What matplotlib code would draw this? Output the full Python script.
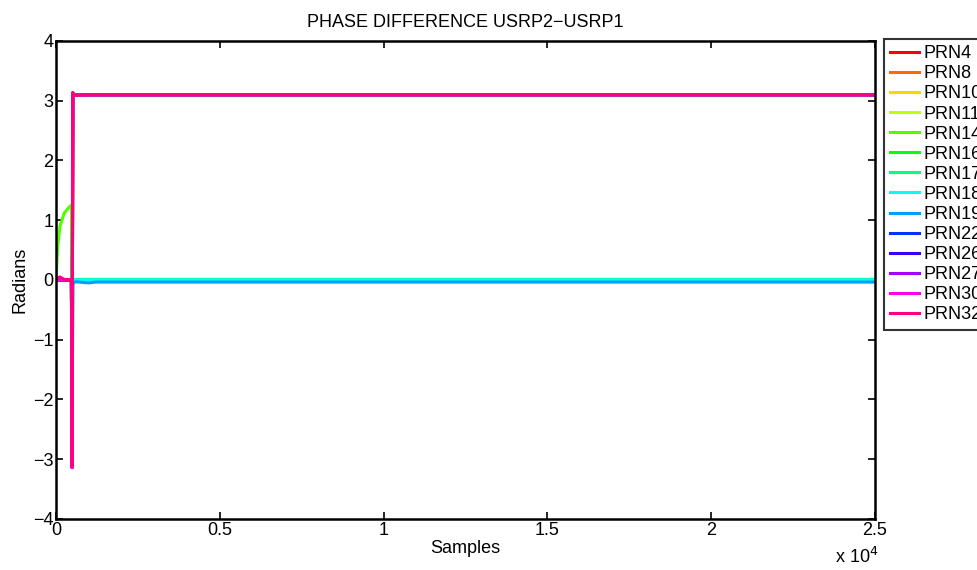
import numpy as np
import matplotlib
matplotlib.use('Agg')
import matplotlib.pyplot as plt

plt.rcParams['font.family'] = ['Liberation Sans', 'DejaVu Sans']

################### *** data *** ##########################################################

prns = ['PRN4', 'PRN8', 'PRN10', 'PRN11', 'PRN14', 'PRN16', 'PRN17',
        'PRN18', 'PRN19', 'PRN22', 'PRN26', 'PRN27', 'PRN30', 'PRN32']

# sample positions of the key points
samples = [0, 50, 120, 250, 400, 470, 490, 510, 530, 600, 1000, 1200, 25000]

phase = {
    'PRN4':  [0, 0, 0, 0, 0, 0, -3.10, 3.12, 3.10, 3.10, 3.10, 3.10, 3.10],
    'PRN8':  [0, 0, 0, 0, 0, 0, -3.08, 3.11, 3.10, 3.10, 3.10, 3.10, 3.10],
    'PRN10': [0, 0, 0, 0, 0, 0, -3.05, 3.12, 3.11, 3.10, 3.10, 3.10, 3.10],
    'PRN11': [0, 0, 0, 0, 0, 0, -3.05, 3.13, 3.11, 3.10, 3.10, 3.10, 3.10],
    'PRN14': [0, 0.55, 0.90, 1.12, 1.22, 1.25, 0.00, 3.12, 3.12, 3.10, 3.10, 3.10, 3.10],
    'PRN16': [0, 0, 0, 0, 0, 0, -2.50, 0.00, 0.00, 0.00, 0.00, 0.00, 0.00],
    'PRN17': [0, 0, 0, 0, 0, 0, -2.80, 0.01, 0.01, 0.01, 0.01, 0.01, 0.01],
    'PRN18': [0, 0, 0, 0, 0, 0, -3.00, 0.00, 0.00, 0.00, 0.00, 0.00, 0.00],
    'PRN19': [0, 0, 0, 0, 0, 0, -3.14, -0.04, -0.05, -0.03, -0.05, -0.035, -0.035],
    'PRN22': [0, 0, 0, 0, 0, 0, -3.12, 3.12, 3.10, 3.10, 3.10, 3.10, 3.10],
    'PRN26': [0, 0, 0, 0, 0, 0, -3.14, 3.12, 3.10, 3.10, 3.10, 3.10, 3.10],
    'PRN27': [0, 0, 0, 0, 0, 0, -3.14, 3.12, 3.10, 3.10, 3.10, 3.10, 3.10],
    'PRN30': [0, 0, 0, 0, 0, 0, -3.14, 3.13, 3.10, 3.10, 3.10, 3.10, 3.10],
    'PRN32': [0, 0.03, 0.05, 0.01, 0, 0, -3.12, 3.14, 3.10, 3.09, 3.10, 3.10, 3.10],
}

xticks = [0, 5000, 10000, 15000, 20000, 25000]
xticklabels = ['0', '0.5', '1', '1.5', '2', '2.5']
yticks = [-4, -3, -2, -1, 0, 1, 2, 3, 4]

################## *** plot data *** ######################################################

colors = plt.cm.hsv(np.arange(len(prns)) / len(prns))
fs = 13

fig = plt.figure(figsize=(9.78, 5.70), dpi=100)
ax = fig.add_axes([0.0573, 0.0895, 0.8374, 0.8386])

for prn, c in zip(prns, colors):
    ax.plot(samples, phase[prn], color=c, lw=2.2, label=prn)

ax.set_xlim(0, 25000)
ax.set_ylim(-4, 4)
ax.set_xticks(xticks)
ax.set_xticklabels(xticklabels)
ax.set_yticks(yticks)
ax.set_yticklabels([str(t).replace('-', '\u2212') for t in yticks])
ax.tick_params(direction='in', top=True, right=True, labelsize=fs,
               length=5, width=1.2, pad=2)
for s in ax.spines.values():
    s.set_linewidth(1.8)

ax.set_title('PHASE DIFFERENCE USRP2\u2212USRP1', fontsize=fs, pad=10)
ax.set_xlabel('Samples', fontsize=fs, labelpad=1)
ax.set_ylabel('Radians', fontsize=fs, labelpad=3)
fig.text(0.854, 0.012, 'x 10$^4$', fontsize=fs)

leg = ax.legend(loc='upper left', bbox_to_anchor=(0.904, 0.9316),
                bbox_transform=fig.transFigure, fontsize=fs, frameon=True,
                fancybox=False, borderaxespad=0, handlelength=1.6,
                handletextpad=0.25, labelspacing=0.17, borderpad=0.35)
leg.get_frame().set_edgecolor('black')
leg.get_frame().set_linewidth(1.5)

plt.savefig('out.png', dpi=100)
plt.close()
